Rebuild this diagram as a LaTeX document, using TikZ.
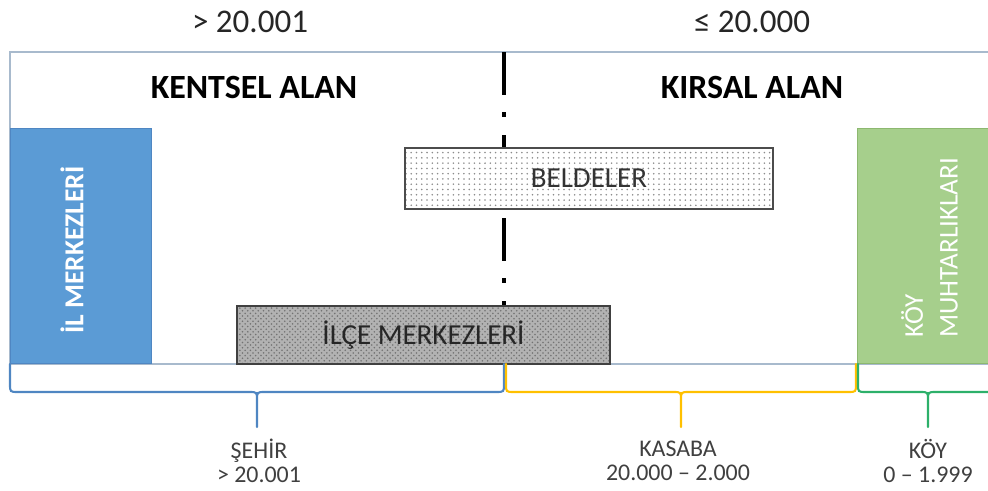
\documentclass[tikz,border=0pt]{standalone}
\usepackage{fontspec}
\setmainfont{Carlito}
\usepackage{tkz-euclide}
\usetikzlibrary{patterns,calc}
\definecolor{mavi}{HTML}{5B9BD5}
\definecolor{maviKoyu}{HTML}{4F86C2}
\definecolor{yesil}{HTML}{A6CF8C}
\definecolor{yesilKoyu}{HTML}{8DB870}
\definecolor{sari}{HTML}{FFC000}
\definecolor{yesilParantez}{HTML}{2DB06A}
\definecolor{cerceve}{HTML}{A8BACD}
\definecolor{yazi}{HTML}{404040}
\tikzset{
  kutu/.style={inner sep=0pt, line width=0.6pt},
  parantez/.style={line width=1.2pt, line cap=round,
    to path={let \p1=(\tikztostart), \p2=(\tikztotarget) in
      -- (\x1,\y1-0.40cm) .. controls (\x1,\y1-0.56cm) .. (\x1+0.16cm,\y1-0.56cm)
      -- ({0.5*(\x1+\x2)-0.16cm},\y1-0.56cm)
      .. controls ({0.5*(\x1+\x2)},\y1-0.56cm) .. ({0.5*(\x1+\x2)},\y1-0.72cm)
      -- ({0.5*(\x1+\x2)},\y1-1.26cm)
      ({0.5*(\x1+\x2)},\y1-0.72cm)
      .. controls ({0.5*(\x1+\x2)},\y1-0.56cm) .. ({0.5*(\x1+\x2)+0.16cm},\y1-0.56cm)
      -- (\x2-0.16cm,\y2-0.56cm) .. controls (\x2,\y2-0.56cm) .. (\x2,\y2-0.40cm)
      -- (\tikztotarget)}},
  etiket/.style={align=center, text=yazi, font=\fontsize{13.6}{14}\selectfont}
}

\begin{document}
\begin{tikzpicture}
\useasboundingbox (0,0) rectangle (19.76,9.8);
\tkzDefPoints{0.2/8.76/A,19.9/8.76/B,0.2/2.52/C,19.9/2.52/D}
\tkzDefPoints{10.08/8.76/E,10.08/3.68/F,17.14/2.52/G}
\tkzDefPoints{0.2/2.52/S1,10.08/2.52/S2,10.12/2.52/S3,17.12/2.52/S4,17.16/2.52/S5,19.96/2.52/S6}
% cerceve ve ayirici
\draw[cerceve, line width=0.8pt] (B) -- (A) -- (C) -- (D);
\draw[line width=2.3pt, dash pattern=on 0.86cm off 0.34cm on 0.1cm off 0.36cm] (E) -- (F);
% ust yazilar
\node[text=black!85, font=\fontsize{18.8}{20}\selectfont] (ustSol) at (5.0,9.36) {> 20.001};
\node[text=black!85, font=\fontsize{18.8}{20}\selectfont] (ustSag) at (15.04,9.36) {≤ 20.000};
\node[font=\fontsize{19.3}{20}\selectfont\bfseries] (kentsel) at (5.08,8.06) {KENTSEL ALAN};
\node[font=\fontsize{19.3}{20}\selectfont\bfseries] (kirsal) at (15.04,8.06) {KIRSAL ALAN};
% kutular
\node[kutu, fill=mavi, draw=maviKoyu, minimum width=2.82cm, minimum height=4.7cm,
      anchor=south west] (il) at (C) {};
\node[rotate=90, text=white, font=\fontsize{15.6}{16}\selectfont\bfseries] (ilYazi) at (1.44,4.8) {İL MERKEZLERİ};
\node[kutu, fill=yesil, draw=yesilKoyu, minimum width=3cm, minimum height=4.7cm,
      anchor=south west] (koy) at (G) {};
\node[rotate=90, inner sep=0pt, anchor=west, align=left, text=white,
      font=\fontsize{15.4}{19.9}\selectfont] (koyYazi) at (18.59,3.04) {KÖY\\MUHTARLIKLARI};
\node[kutu, draw=black!70, preaction={fill=white}, pattern=dots, pattern color=black!45,
      minimum width=7.36cm, minimum height=1.22cm, font=\fontsize{16.5}{17}\selectfont,
      text=black!80] (belde) at (11.78,6.23) {BELDELER};
\node[kutu, draw=black!75, preaction={fill=black!30}, pattern=crosshatch dots, pattern color=black!55,
      minimum width=7.46cm, minimum height=1.16cm, font=\fontsize{16.5}{17}\selectfont,
      text=black!85] (ilce) at (8.47,3.10) {İLÇE MERKEZLERİ};
% parantezler
\draw[parantez, maviKoyu] (S1) to (S2);
\draw[parantez, sari] (S3) to (S4);
\draw[parantez, yesilParantez] (S5) to (S6);
\node[etiket] (sehir) at (5.18,0.58) {ŞEHİR\\> 20.001};
\node[etiket] (kasaba) at (13.56,0.58) {KASABA\\20.000 – 2.000};
\node[etiket] (koyAlt) at (18.56,0.58) {KÖY\\0 – 1.999};
\end{tikzpicture}
\end{document}
